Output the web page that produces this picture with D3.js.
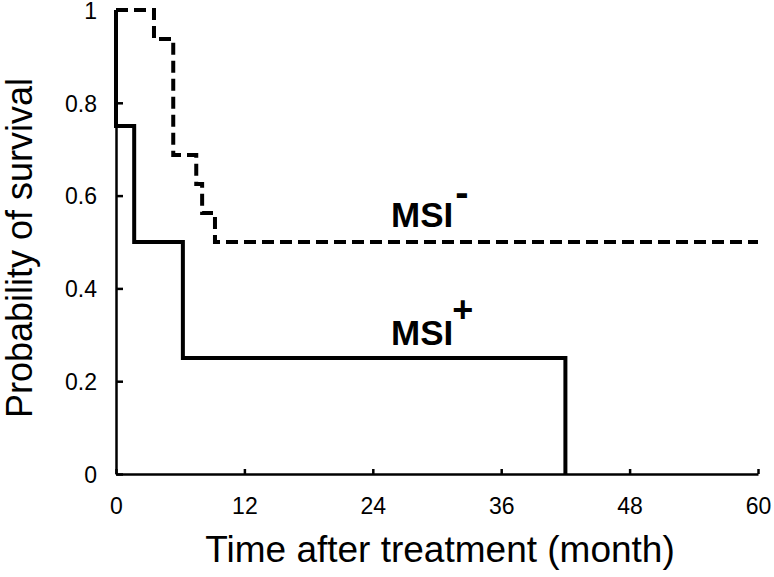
<!DOCTYPE html>
<html>
<head>
<meta charset="utf-8">
<script src="https://cdn.jsdelivr.net/npm/d3@7"></script>
<style>
  html, body { margin: 0; padding: 0; background: #fff; }
  svg { display: block; font-family: "Liberation Sans", Arial, Helvetica, sans-serif; }
</style>
</head>
<body>
<svg id="chart" width="774" height="577"></svg>
<script>
// Data
const msiNegTimes = [0, 3.55, 5.35, 7.5, 8.05, 9.25, 60];
const msiNegSurv  = [1, 0.9375, 0.6875, 0.625, 0.5625, 0.5, 0.5];
const msiPosTimes = [0, 0, 1.7, 6.25, 42];
const msiPosSurv  = [1, 0.75, 0.5, 0.25, 0];
const xTicks = [0, 12, 24, 36, 48, 60];
const yTicks = [0, 0.2, 0.4, 0.6, 0.8, 1];
const yTickLabels = ["0", "0.2", "0.4", "0.6", "0.8", "1"];

const svg = d3.select("#chart");
const x = d3.scaleLinear().domain([0, 60]).range([116, 758]);
const y = d3.scaleLinear().domain([0, 1]).range([474, 10]);

// Axes
const xAxis = d3.axisBottom(x).tickValues(xTicks).tickSizeInner(-5).tickSizeOuter(0).tickFormat(d3.format("d"));
const gx = svg.append("g").attr("transform", `translate(0,${y(0)})`).call(xAxis);
gx.select(".domain").attr("stroke", "#000").attr("stroke-width", 2.5);
gx.selectAll(".tick line").attr("stroke", "#000").attr("stroke-width", 2.5);
gx.selectAll(".tick text").attr("font-size", 23).attr("fill", "#000").attr("y", 40).attr("dy", 0);

const yAxis = d3.axisLeft(y).tickValues(yTicks).tickSizeInner(-7).tickSizeOuter(0)
  .tickFormat((d, i) => yTickLabels[i]).tickPadding(19);
const gy = svg.append("g").attr("transform", `translate(${x(0)},0)`).call(yAxis);
gy.select(".domain").attr("stroke", "#000").attr("stroke-width", 2.5);
gy.selectAll(".tick line").attr("stroke", "#000").attr("stroke-width", 2.5);
gy.selectAll(".tick text").attr("font-size", 23).attr("fill", "#000").attr("dy", "0.36em");

// Curves
const line = d3.line().x(d => x(d[0])).y(d => y(d[1])).curve(d3.curveStepAfter);
const negPts = msiNegTimes.map((t, i) => [t, msiNegSurv[i]]);
const posPts = msiPosTimes.map((t, i) => [t, msiPosSurv[i]]);

svg.append("path").datum(negPts).attr("d", line)
  .attr("fill", "none").attr("stroke", "#000").attr("stroke-width", 4)
  .attr("stroke-dasharray", "12,6").attr("stroke-linejoin", "miter").attr("stroke-linecap", "butt");
svg.append("path").datum(posPts).attr("d", line)
  .attr("fill", "none").attr("stroke", "#000").attr("stroke-width", 4)
  .attr("stroke-linejoin", "miter");

// Labels
const lblNeg = svg.append("text").attr("x", 391).attr("y", 227)
  .attr("font-size", 35).attr("font-weight", "bold").attr("fill", "#000");
lblNeg.append("tspan").text("MSI");
lblNeg.append("tspan").attr("dx", 2).attr("dy", -21).attr("font-size", 40).text("-");

const lblPos = svg.append("text").attr("x", 391).attr("y", 345)
  .attr("font-size", 35).attr("font-weight", "bold").attr("fill", "#000");
lblPos.append("tspan").text("MSI");
lblPos.append("tspan").attr("dx", -1).attr("dy", -23).attr("font-size", 36).text("+");

// Axis titles
svg.append("text").attr("x", 440).attr("y", 562).attr("text-anchor", "middle")
  .attr("font-size", 37).attr("fill", "#000").text("Time after treatment (month)");
svg.append("text").attr("transform", "translate(32,248) rotate(-90)").attr("text-anchor", "middle")
  .attr("font-size", 36).attr("fill", "#000").text("Probability of survival");
</script>
</body>
</html>
